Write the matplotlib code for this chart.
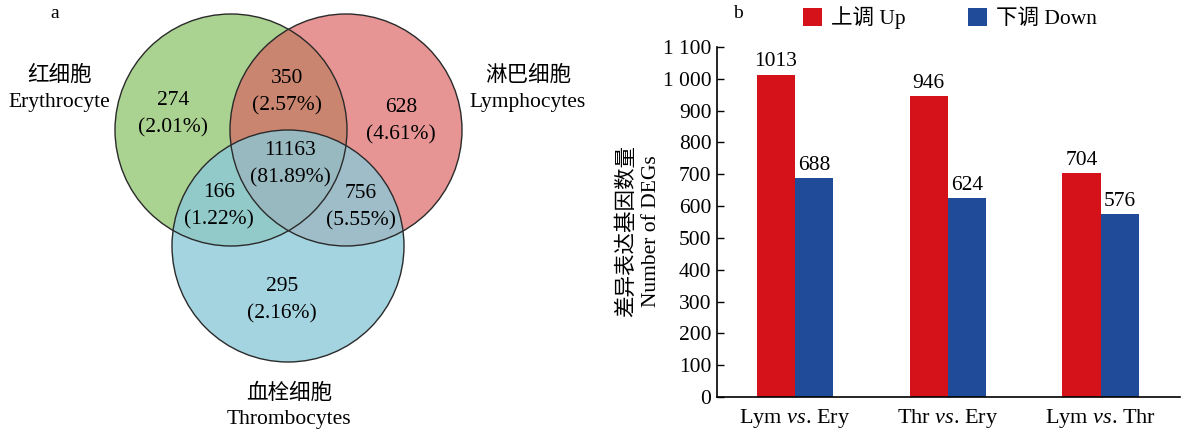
import matplotlib
matplotlib.use("Agg")
import matplotlib.pyplot as plt
from matplotlib.patches import Circle, Patch

plt.rcParams['font.family'] = ['Liberation Serif', 'Noto Sans CJK SC']
plt.rcParams['mathtext.fontset'] = 'custom'
plt.rcParams['mathtext.it'] = 'Liberation Serif:italic'
plt.rcParams['mathtext.rm'] = 'Liberation Serif'

# ---- Venn data ----
set_names = ['红细胞\nErythrocyte', '淋巴细胞\nLymphocytes', '血栓细胞\nThrombocytes']
region_counts = [274, 628, 295, 350, 166, 756, 11163]
region_pcts = [2.01, 4.61, 2.16, 2.57, 1.22, 5.55, 81.89]

# ---- Bar data ----
comparisons = ['Lym $\\mathit{vs}$. Ery', 'Thr $\\mathit{vs}$. Ery', 'Lym $\\mathit{vs}$. Thr']
up_counts = [1013, 946, 704]
down_counts = [688, 624, 576]
y_ticks = [0, 100, 200, 300, 400, 500, 600, 700, 800, 900, 1000, 1100]
y_ticklabels = ['0', '100', '200', '300', '400', '500', '600', '700', '800', '900', '1 000', '1 100']

FS = 15.5

fig = plt.figure(figsize=(11.88, 4.33), dpi=100)

# ---------------- panel a: Venn ----------------
ax_v = fig.add_axes([0, 0, 0.5, 1])
ax_v.set_xlim(0, 594)
ax_v.set_ylim(433, 0)
ax_v.set_aspect('equal')
ax_v.axis('off')

r = 116
centers = [(231, 130), (346, 130), (288, 246)]
fills = [((170/255, 210/255, 145/255), 1.0),
         ((218/255, 96/255, 96/255), 0.67),
         ((140/255, 201/255, 217/255), 0.78)]
for (cx, cy), (col, a) in zip(centers, fills):
    ax_v.add_patch(Circle((cx, cy), r, facecolor=col, alpha=a, edgecolor='none'))
for (cx, cy) in centers:
    ax_v.add_patch(Circle((cx, cy), r, facecolor='none', edgecolor='#2a2a2a', lw=1.0))

region_pos = [(173, 114), (401, 121), (282, 300), (287, 92), (219, 206), (361, 207), (290, 164)]
for (x, y), n, p in zip(region_pos, region_counts, region_pcts):
    ax_v.text(x, y, f'{n}\n({p:.2f}%)', ha='center', va='center', fontsize=FS, linespacing=1.55)

label_pos = [(59, 89), (528, 89), (289, 406)]
for (x, y), name in zip(label_pos, set_names):
    ax_v.text(x, y, name, ha='center', va='center', fontsize=FS, linespacing=1.45)

fig.text(55 / 1188, 1 - 14 / 433, 'a', fontsize=14, ha='center', va='center')
fig.text(738 / 1188, 1 - 14 / 433, 'b', fontsize=14, ha='center', va='center')

# ---------------- panel b: bars ----------------
ax = fig.add_axes([717 / 1188, 1 - 397 / 433, (1180 - 717) / 1188, (397 - 47) / 433])
x = list(range(len(comparisons)))
w = 0.25
red = '#d51219'
blue = '#1f4b98'
b_up = ax.bar([i - w / 2 for i in x], up_counts, width=w, color=red, zorder=2)
b_dn = ax.bar([i + w / 2 for i in x], down_counts, width=w, color=blue, zorder=2)
for rect, v in zip(list(b_up) + list(b_dn), up_counts + down_counts):
    ax.text(rect.get_x() + rect.get_width() / 2, v + 10, str(v),
            ha='center', va='bottom', fontsize=FS)

ax.set_xlim(-0.51, 2.52)
ax.set_ylim(0, 1100)
ax.set_yticks(y_ticks)
ax.set_yticklabels(y_ticklabels, fontsize=FS)
ax.set_xticks(x)
ax.set_xticklabels(comparisons, fontsize=16)
ax.tick_params(axis='both', direction='in', length=5, width=1, color='black')
ax.tick_params(axis='x', pad=7)
ax.tick_params(axis='y', pad=4)
for s in ['top', 'right']:
    ax.spines[s].set_visible(False)
for s in ['left', 'bottom']:
    ax.spines[s].set_linewidth(1.2)
ax.set_ylabel('差异表达基因数量\nNumber of DEGs', fontsize=FS, linespacing=1.3)
ax.yaxis.set_label_coords(-0.122, 0.474)

handles = [Patch(facecolor=red, label='上调 Up'), Patch(facecolor=blue, label='下调 Down')]
fig.legend(handles=handles, loc='center', bbox_to_anchor=(950 / 1188, 1 - 18 / 433), ncol=2,
           frameon=False, fontsize=FS, handlelength=0.9, handleheight=0.9,
           handletextpad=0.4, columnspacing=2.9)

fig.savefig('out.png', dpi=100)
